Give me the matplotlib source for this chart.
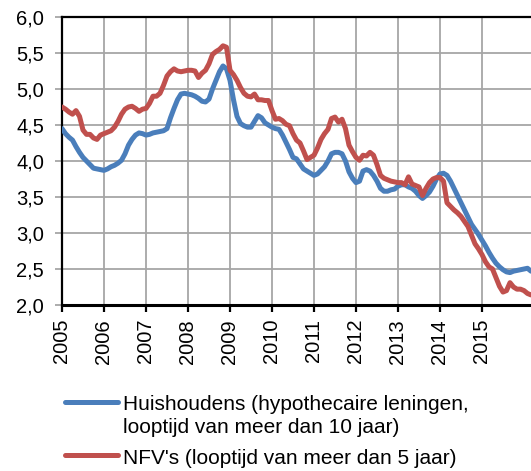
import matplotlib
matplotlib.use('Agg')
import matplotlib.pyplot as plt
from matplotlib.lines import Line2D
from matplotlib.ticker import FuncFormatter, MultipleLocator

plt.rcParams['font.family'] = ['Liberation Sans', 'DejaVu Sans']

# monthly values, Jan 2005 .. Mar 2016 (month index 0..134)
huishoudens = [
    4.45, 4.38, 4.33, 4.29, 4.20, 4.12, 4.05, 4.00, 3.95, 3.90, 3.89, 3.88,
    3.87, 3.89, 3.92, 3.94, 3.97, 4.01, 4.10, 4.22, 4.30, 4.36, 4.39, 4.38,
    4.36, 4.37, 4.39, 4.40, 4.41, 4.42, 4.45, 4.60, 4.73, 4.85, 4.93, 4.94,
    4.93, 4.92, 4.90, 4.87, 4.83, 4.82, 4.86, 5.00, 5.12, 5.24, 5.32, 5.28,
    5.12, 4.85, 4.62, 4.52, 4.49, 4.47, 4.47, 4.55, 4.63, 4.60, 4.53, 4.50,
    4.47, 4.45, 4.44, 4.36, 4.26, 4.16, 4.05, 4.03, 3.96, 3.89, 3.86, 3.83,
    3.80, 3.82, 3.87, 3.92, 4.00, 4.10, 4.12, 4.12, 4.10, 4.00, 3.85, 3.76,
    3.70, 3.72, 3.86, 3.88, 3.86, 3.80, 3.72, 3.62, 3.58, 3.58, 3.60, 3.61,
    3.65, 3.67, 3.67, 3.64, 3.62, 3.58, 3.52, 3.48, 3.52, 3.57, 3.65, 3.75,
    3.82, 3.83, 3.80, 3.72, 3.62, 3.52, 3.42, 3.32, 3.22, 3.12, 3.05, 2.98,
    2.90, 2.82, 2.73, 2.65, 2.58, 2.53, 2.49, 2.46, 2.45, 2.47, 2.48, 2.49,
    2.50, 2.51, 2.47,
]

nfv = [
    4.75, 4.72, 4.68, 4.65, 4.70, 4.62, 4.43, 4.37, 4.37, 4.32, 4.30, 4.36,
    4.38, 4.40, 4.42, 4.47, 4.55, 4.65, 4.72, 4.75, 4.76, 4.73, 4.69, 4.72,
    4.73, 4.80, 4.90, 4.90, 4.94, 5.05, 5.18, 5.24, 5.28, 5.25, 5.24, 5.25,
    5.26, 5.26, 5.25, 5.16, 5.22, 5.26, 5.35, 5.48, 5.52, 5.55, 5.60, 5.58,
    5.26, 5.20, 5.12, 5.02, 4.94, 4.90, 4.89, 4.93, 4.85, 4.85, 4.84, 4.84,
    4.70, 4.58, 4.59, 4.56, 4.51, 4.49, 4.38, 4.29, 4.25, 4.14, 4.02, 4.05,
    4.08, 4.18, 4.30, 4.38, 4.44, 4.59, 4.61, 4.54, 4.58, 4.45, 4.22, 4.13,
    4.05, 4.01, 4.08, 4.07, 4.12, 4.08, 3.95, 3.80, 3.76, 3.74, 3.72, 3.71,
    3.70, 3.70, 3.67, 3.78, 3.68, 3.66, 3.64, 3.52, 3.62, 3.70, 3.75, 3.77,
    3.77, 3.72, 3.42, 3.37, 3.32, 3.28, 3.23, 3.16, 3.09, 2.97, 2.85, 2.78,
    2.70, 2.60, 2.53, 2.50, 2.38, 2.26, 2.18, 2.20, 2.31, 2.25, 2.22, 2.22,
    2.20, 2.16, 2.14,
]

years = list(range(2005, 2016))
label_hh = ['Huishoudens (hypothecaire leningen,', 'looptijd van meer dan 10 jaar)']
label_nfv = "NFV's (looptijd van meer dan 5 jaar)"

blue = '#4a7ebb'
red = '#c0504d'
W, H = 531, 471

fig = plt.figure(figsize=(W / 100, H / 100), dpi=100)
ax = fig.add_axes([62 / W, 1 - 305 / H, 1 - 62 / W, (305 - 17) / H])

months = list(range(len(huishoudens)))
ax.plot(months, huishoudens, color=blue, lw=3.6, solid_capstyle='round', zorder=3)
ax.plot(months, nfv, color=red, lw=3.6, solid_capstyle='round', zorder=3)

ax.set_xlim(0, 134)
ax.set_ylim(2.0, 6.0)
ax.yaxis.set_major_locator(MultipleLocator(0.5))
ax.yaxis.set_major_formatter(FuncFormatter(lambda v, p: f'{v:.1f}'.replace('.', ',')))
ax.set_xticks([(y - 2005) * 12 for y in years])
ax.set_xticklabels([str(y) for y in years], rotation=90)

ax.grid(True, color='#a6a6a6', lw=1.3, zorder=0)
ax.spines['right'].set_visible(False)
ax.spines['top'].set_linewidth(1.6)
ax.spines['left'].set_linewidth(1.6)
ax.spines['bottom'].set_linewidth(2.2)
ax.tick_params(axis='y', length=5, width=1.3, color='#a6a6a6', labelsize=14.5, pad=8)
ax.tick_params(axis='x', length=5, width=1.6, color='black', labelsize=14.5, pad=5)

# legend drawn by hand so the blue key sits on the first text line
fs = 15
fig.add_artist(Line2D([65 / W, 118 / W], [1 - 402 / H] * 2, color=blue, lw=3.6,
                      solid_capstyle='round'))
fig.add_artist(Line2D([65 / W, 118 / W], [1 - 455 / H] * 2, color=red, lw=3.6,
                      solid_capstyle='round'))
fig.text(123 / W, 1 - 410 / H, label_hh[0], fontsize=fs, va='baseline')
fig.text(123 / W, 1 - 433 / H, label_hh[1], fontsize=fs, va='baseline')
fig.text(123 / W, 1 - 464 / H, label_nfv, fontsize=fs, va='baseline')

fig.savefig('out.png', dpi=100)
